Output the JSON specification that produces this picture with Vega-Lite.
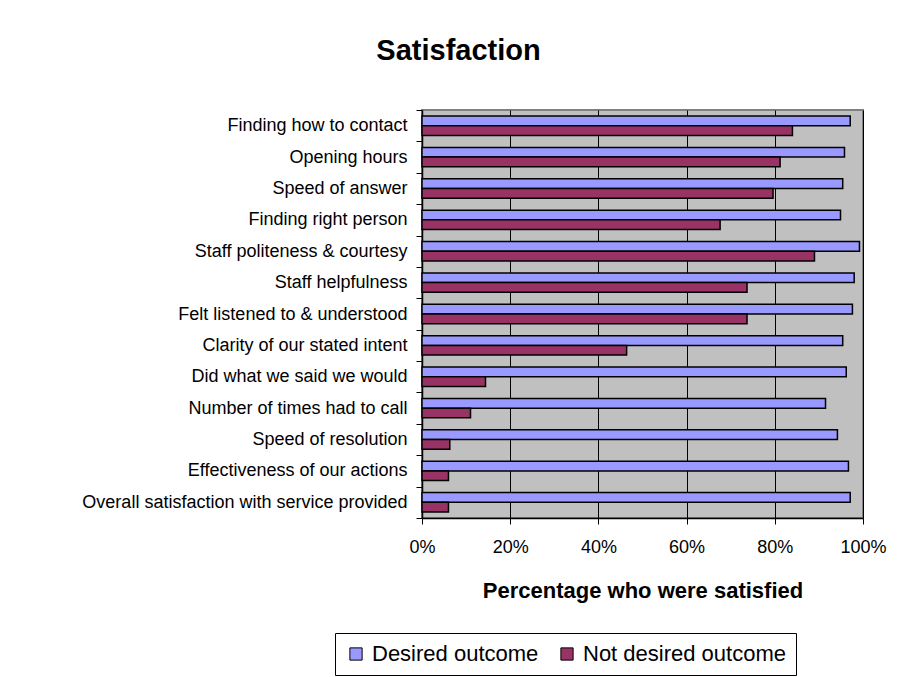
{
  "$schema": "https://vega.github.io/schema/vega-lite/v6.json",
  "autosize": "none",
  "padding": {"left": 422, "top": 110, "right": 35, "bottom": 159},
  "width": 441,
  "height": 408,
  "background": "white",
  "title": {
    "text": "Satisfaction",
    "fontSize": 29,
    "fontWeight": "bold",
    "font": "Liberation Sans",
    "color": "black",
    "anchor": "middle",
    "frame": "group",
    "dx": -184,
    "offset": 35
  },
  "data": {
    "values": [
      {"item": "Finding how to contact", "outcome": "Desired outcome", "value": 0.971},
      {"item": "Finding how to contact", "outcome": "Not desired outcome", "value": 0.840},
      {"item": "Opening hours", "outcome": "Desired outcome", "value": 0.958},
      {"item": "Opening hours", "outcome": "Not desired outcome", "value": 0.812},
      {"item": "Speed of answer", "outcome": "Desired outcome", "value": 0.954},
      {"item": "Speed of answer", "outcome": "Not desired outcome", "value": 0.796},
      {"item": "Finding right person", "outcome": "Desired outcome", "value": 0.949},
      {"item": "Finding right person", "outcome": "Not desired outcome", "value": 0.676},
      {"item": "Staff politeness & courtesy", "outcome": "Desired outcome", "value": 0.992},
      {"item": "Staff politeness & courtesy", "outcome": "Not desired outcome", "value": 0.890},
      {"item": "Staff helpfulness", "outcome": "Desired outcome", "value": 0.980},
      {"item": "Staff helpfulness", "outcome": "Not desired outcome", "value": 0.737},
      {"item": "Felt listened to & understood", "outcome": "Desired outcome", "value": 0.976},
      {"item": "Felt listened to & understood", "outcome": "Not desired outcome", "value": 0.737},
      {"item": "Clarity of our stated intent", "outcome": "Desired outcome", "value": 0.954},
      {"item": "Clarity of our stated intent", "outcome": "Not desired outcome", "value": 0.464},
      {"item": "Did what we said we would", "outcome": "Desired outcome", "value": 0.962},
      {"item": "Did what we said we would", "outcome": "Not desired outcome", "value": 0.144},
      {"item": "Number of times had to call", "outcome": "Desired outcome", "value": 0.915},
      {"item": "Number of times had to call", "outcome": "Not desired outcome", "value": 0.110},
      {"item": "Speed of resolution", "outcome": "Desired outcome", "value": 0.942},
      {"item": "Speed of resolution", "outcome": "Not desired outcome", "value": 0.063},
      {"item": "Effectiveness of our actions", "outcome": "Desired outcome", "value": 0.967},
      {"item": "Effectiveness of our actions", "outcome": "Not desired outcome", "value": 0.060},
      {"item": "Overall satisfaction with service provided", "outcome": "Desired outcome", "value": 0.971},
      {"item": "Overall satisfaction with service provided", "outcome": "Not desired outcome", "value": 0.060}
    ]
  },
  "mark": {"type": "bar", "stroke": "black", "strokeWidth": 1.5},
  "encoding": {
    "y": {
      "field": "item",
      "type": "nominal",
      "sort": null,
      "scale": {"paddingInner": 0, "paddingOuter": 0},
      "axis": {
        "title": null,
        "tickBand": "extent",
        "tickSize": 6,
        "tickColor": "black",
        "domainColor": "black",
        "domainWidth": 1.5,
        "labelFontSize": 18,
        "labelFont": "Liberation Sans",
        "labelColor": "black",
        "labelPadding": 9,
        "labelLimit": 500,
        "grid": false
      }
    },
    "yOffset": {
      "field": "outcome",
      "type": "nominal",
      "sort": ["Desired outcome", "Not desired outcome"],
      "scale": {"paddingInner": 0, "paddingOuter": 0.62}
    },
    "x": {
      "field": "value",
      "type": "quantitative",
      "scale": {"domain": [0, 1], "nice": false},
      "axis": {
        "title": "Percentage who were satisfied",
        "titleFontSize": 22,
        "titleFont": "Liberation Sans",
        "titleFontWeight": "bold",
        "titleColor": "black",
        "titlePadding": 24,
        "values": [0, 0.2, 0.4, 0.6, 0.8, 1],
        "format": ".0%",
        "labelFontSize": 18,
        "labelFont": "Liberation Sans",
        "labelColor": "black",
        "labelPadding": 14,
        "labelFlush": false,
        "tickSize": 6,
        "tickColor": "black",
        "domainColor": "black",
        "domainWidth": 1.5,
        "grid": true,
        "gridColor": "black",
        "gridWidth": 1,
        "gridOpacity": 1
      }
    },
    "color": {
      "field": "outcome",
      "type": "nominal",
      "sort": ["Desired outcome", "Not desired outcome"],
      "scale": {"domain": ["Desired outcome", "Not desired outcome"], "range": ["#9999FF", "#993366"]},
      "legend": {
        "title": null,
        "orient": "none",
        "legendX": -87,
        "legendY": 523,
        "direction": "horizontal",
        "symbolType": "square",
        "symbolSize": 150,
        "symbolStrokeColor": "black",
        "symbolStrokeWidth": 1,
        "symbolOpacity": 1,
        "labelFontSize": 22,
        "labelFont": "Liberation Sans",
        "labelColor": "black",
        "labelLimit": 300,
        "labelOffset": 5,
        "columnPadding": 17,
        "strokeColor": "black",
        "padding": 10,
        "fillColor": "white"
      }
    }
  },
  "config": {
    "view": {"fill": "#C0C0C0", "stroke": "#808080", "strokeWidth": 2}
  }
}
